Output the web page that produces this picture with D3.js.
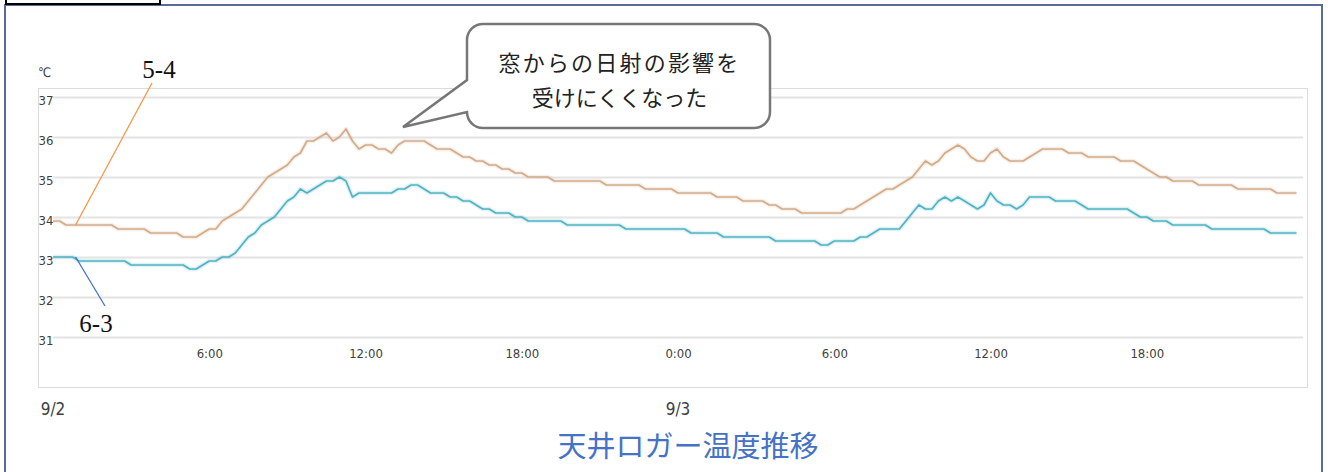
<!DOCTYPE html>
<html>
<head>
<meta charset="utf-8">
<script src="https://cdn.jsdelivr.net/npm/d3@7"></script>
<style>
  html, body { margin: 0; padding: 0; background: #fff; }
  svg { display: block; }
</style>
</head>
<body>
<svg id="chart" width="1328" height="472"></svg>
<script>
// Ceiling logger readings, one every 15 minutes from 9/2 0:00 to 9/3 23:45 (°C)
const startTime = new Date(2023, 8, 2, 0, 0);
const stepMinutes = 15;

const temp54 = [
  33.9, 33.9, 33.8, 33.8,  33.8, 33.8, 33.8, 33.8,  33.8, 33.8, 33.7, 33.7,
  33.7, 33.7, 33.7, 33.6,  33.6, 33.6, 33.6, 33.6,  33.5, 33.5, 33.5, 33.6,
  33.7, 33.7, 33.9, 34.0,  34.1, 34.2, 34.4, 34.6,  34.8, 35.0, 35.1, 35.2,
  35.3, 35.5, 35.6, 35.9,  35.9, 36.0, 36.1, 35.9,  36.0, 36.2, 35.9, 35.7,
  35.8, 35.8, 35.7, 35.7,  35.6, 35.8, 35.9, 35.9,  35.9, 35.9, 35.8, 35.7,
  35.7, 35.7, 35.6, 35.5,  35.5, 35.4, 35.4, 35.3,  35.3, 35.2, 35.2, 35.1,
  35.1, 35.0, 35.0, 35.0,  35.0, 34.9, 34.9, 34.9,  34.9, 34.9, 34.9, 34.9,
  34.9, 34.8, 34.8, 34.8,  34.8, 34.8, 34.8, 34.7,  34.7, 34.7, 34.7, 34.7,
  34.6, 34.6, 34.6, 34.6,  34.6, 34.6, 34.5, 34.5,  34.5, 34.5, 34.4, 34.4,
  34.4, 34.4, 34.3, 34.3,  34.2, 34.2, 34.2, 34.1,  34.1, 34.1, 34.1, 34.1,
  34.1, 34.1, 34.2, 34.2,  34.3, 34.4, 34.5, 34.6,  34.7, 34.7, 34.8, 34.9,
  35.0, 35.2, 35.4, 35.3,  35.4, 35.6, 35.7, 35.8,  35.7, 35.5, 35.4, 35.4,
  35.6, 35.7, 35.5, 35.4,  35.4, 35.4, 35.5, 35.6,  35.7, 35.7, 35.7, 35.7,
  35.6, 35.6, 35.6, 35.5,  35.5, 35.5, 35.5, 35.5,  35.4, 35.4, 35.4, 35.3,
  35.2, 35.1, 35.0, 35.0,  34.9, 34.9, 34.9, 34.9,  34.8, 34.8, 34.8, 34.8,
  34.8, 34.8, 34.7, 34.7,  34.7, 34.7, 34.7, 34.7,  34.6, 34.6, 34.6, 34.6
];

const temp63 = [
  33.0, 33.0, 33.0, 33.0,  32.9, 32.9, 32.9, 32.9,  32.9, 32.9, 32.9, 32.9,
  32.8, 32.8, 32.8, 32.8,  32.8, 32.8, 32.8, 32.8,  32.8, 32.7, 32.7, 32.8,
  32.9, 32.9, 33.0, 33.0,  33.1, 33.3, 33.5, 33.6,  33.8, 33.9, 34.0, 34.2,
  34.4, 34.5, 34.7, 34.6,  34.7, 34.8, 34.9, 34.9,  35.0, 34.9, 34.5, 34.6,
  34.6, 34.6, 34.6, 34.6,  34.6, 34.7, 34.7, 34.8,  34.8, 34.7, 34.6, 34.6,
  34.6, 34.5, 34.5, 34.4,  34.4, 34.3, 34.2, 34.2,  34.1, 34.1, 34.1, 34.0,
  34.0, 33.9, 33.9, 33.9,  33.9, 33.9, 33.9, 33.8,  33.8, 33.8, 33.8, 33.8,
  33.8, 33.8, 33.8, 33.8,  33.7, 33.7, 33.7, 33.7,  33.7, 33.7, 33.7, 33.7,
  33.7, 33.7, 33.6, 33.6,  33.6, 33.6, 33.6, 33.5,  33.5, 33.5, 33.5, 33.5,
  33.5, 33.5, 33.5, 33.4,  33.4, 33.4, 33.4, 33.4,  33.4, 33.4, 33.3, 33.3,
  33.4, 33.4, 33.4, 33.4,  33.5, 33.5, 33.6, 33.7,  33.7, 33.7, 33.7, 33.9,
  34.1, 34.3, 34.2, 34.2,  34.4, 34.5, 34.4, 34.5,  34.4, 34.3, 34.2, 34.3,
  34.6, 34.4, 34.3, 34.3,  34.2, 34.3, 34.5, 34.5,  34.5, 34.5, 34.4, 34.4,
  34.4, 34.4, 34.3, 34.2,  34.2, 34.2, 34.2, 34.2,  34.2, 34.2, 34.1, 34.0,
  34.0, 33.9, 33.9, 33.9,  33.8, 33.8, 33.8, 33.8,  33.8, 33.8, 33.7, 33.7,
  33.7, 33.7, 33.7, 33.7,  33.7, 33.7, 33.7, 33.6,  33.6, 33.6, 33.6, 33.6
];

const seriesNames = ["5-4", "6-3"];
const seriesColors = ["#d4ab88", "#4fb3c3"];
const leaderColors = ["#f79646", "#4472c4"];
const yTickValues = [31, 32, 33, 34, 35, 36, 37];
const dayLabels = ["9/2", "9/3"];
const unitLabel = "℃";
const chartTitle = "天井ロガー温度推移";
const calloutLines = ["窓からの日射の影響を", "受けにくくなった"];

// ---- layout ----
const svg = d3.select("#chart");
const W = 1328, H = 472;
const frame = { left: 38, top: 88, right: 1307, bottom: 387 };
const plot = { left: 53, right: 1303, top: 97, bottom: 337 };
const tickFont = "'Liberation Sans Narrow', 'DejaVu Sans Condensed', 'Arial Narrow', sans-serif";
const jpFont = "'Noto Sans CJK JP', 'Noto Sans', sans-serif";
const serifFont = "'Liberation Serif', 'DejaVu Serif', serif";

svg.append("rect").attr("width", W).attr("height", H).attr("fill", "#fff");

const endTime = d3.timeDay.offset(startTime, 2);
const x = d3.scaleTime().domain([startTime, endTime]).range([plot.left, plot.right]);
const y = d3.scaleLinear().domain([31, 37]).range([plot.bottom, plot.top]);
const timeAt = i => d3.timeMinute.offset(startTime, i * stepMinutes);

// outer slide frame and tab
svg.append("rect")
  .attr("x", 5).attr("y", 5).attr("width", 1317).attr("height", 500)
  .attr("fill", "none").attr("stroke", "#596b96").attr("stroke-width", 2);
svg.append("rect")
  .attr("x", 6).attr("y", -10).attr("width", 154).attr("height", 14)
  .attr("fill", "none").attr("stroke", "#000").attr("stroke-width", 2);

// chart frame
svg.append("rect")
  .attr("x", frame.left + 0.5).attr("y", frame.top + 0.5)
  .attr("width", frame.right - frame.left).attr("height", frame.bottom - frame.top)
  .attr("fill", "#fff").attr("stroke", "#dcdcdc").attr("stroke-width", 1);

// horizontal gridlines
const yGrid = svg.append("g")
  .attr("transform", `translate(${plot.left},0)`)
  .call(d3.axisRight(y).tickValues(yTickValues).tickSize(plot.right - plot.left).tickFormat(""));
yGrid.select(".domain").remove();
yGrid.selectAll(".tick line").attr("stroke", "#e4e4e4").attr("stroke-width", 2);

// y tick labels
svg.append("g").selectAll("text")
  .data(yTickValues)
  .join("text")
  .attr("x", frame.left + 0.5)
  .attr("y", d => y(d) + 3)
  .attr("dominant-baseline", "central")
  .attr("font-family", tickFont).attr("font-size", 13).attr("fill", "#404040")
  .text(d => d);

svg.append("text")
  .attr("x", frame.left).attr("y", 72)
  .attr("dominant-baseline", "central")
  .attr("font-family", tickFont).attr("font-size", 13).attr("fill", "#404040")
  .text(unitLabel);

// x axis: hour ticks every 6 hours
const hourTicks = x.ticks(d3.timeHour.every(6)).filter(d => d > startTime && d < endTime);
const xAxis = svg.append("g")
  .attr("transform", `translate(0,${plot.bottom + 16})`)
  .call(d3.axisBottom(x).tickValues(hourTicks).tickSize(0).tickFormat(d3.timeFormat("%-H:%M")));
xAxis.select(".domain").remove();
xAxis.selectAll("text")
  .attr("y", 0).attr("dy", 0)
  .attr("dominant-baseline", "central")
  .attr("font-family", tickFont).attr("font-size", 13).attr("fill", "#404040");

// day labels under the frame
const dayDates = dayLabels.map((_, i) => d3.timeDay.offset(startTime, i));
svg.append("g").selectAll("text")
  .data(dayLabels)
  .join("text")
  .attr("x", (d, i) => Math.max(x(dayDates[i]), frame.left + 11))
  .attr("y", 409)
  .attr("text-anchor", "middle")
  .attr("dominant-baseline", "central")
  .attr("font-family", tickFont).attr("font-size", 17).attr("fill", "#404040")
  .text(d => d);

// temperature lines
const series = [temp54, temp63];
const line = d3.line().x((d, i) => x(timeAt(i))).y(d => y(d));
const linesG = svg.append("g");
series.forEach((vals, s) => {
  linesG.append("path")
    .attr("d", line(vals))
    .attr("fill", "none").attr("stroke", seriesColors[s])
    .attr("stroke-opacity", 0.18).attr("stroke-width", 4.5)
    .attr("stroke-linejoin", "round");
  linesG.append("path")
    .attr("d", line(vals))
    .attr("fill", "none").attr("stroke", seriesColors[s])
    .attr("stroke-width", 1.7).attr("stroke-linejoin", "round");
});

// series labels with leader lines
const labelIndex = 3;
const labelPos = [
  { tx: 159, ty: 69, lx: 152, ly: 83 },
  { tx: 96, ty: 323, lx: 105, ly: 306 }
];
series.forEach((vals, s) => {
  const px = x(d3.timeMinute.offset(timeAt(labelIndex), 7));
  const py = y(vals[labelIndex]);
  svg.append("line")
    .attr("x1", labelPos[s].lx).attr("y1", labelPos[s].ly)
    .attr("x2", px).attr("y2", py)
    .attr("stroke", leaderColors[s]).attr("stroke-width", 1.3);
  svg.append("text")
    .attr("x", labelPos[s].tx).attr("y", labelPos[s].ty)
    .attr("text-anchor", "middle").attr("dominant-baseline", "central")
    .attr("font-family", serifFont).attr("font-size", 25).attr("fill", "#111")
    .text(seriesNames[s]);
});

// callout bubble
const b = { x0: 467, y0: 24, x1: 770, y1: 128, r: 16, tipX: 403, tipY: 127, tailTop: 80 };
const bubble = [
  `M${b.x0 + b.r},${b.y0}`,
  `H${b.x1 - b.r}`, `A${b.r},${b.r} 0 0 1 ${b.x1},${b.y0 + b.r}`,
  `V${b.y1 - b.r}`, `A${b.r},${b.r} 0 0 1 ${b.x1 - b.r},${b.y1}`,
  `H${b.x0 + b.r}`, `A${b.r},${b.r} 0 0 1 ${b.x0},${b.y1 - b.r}`,
  `L${b.tipX},${b.tipY}`, `L${b.x0},${b.tailTop}`,
  `V${b.y0 + b.r}`, `A${b.r},${b.r} 0 0 1 ${b.x0 + b.r},${b.y0}`, "Z"
].join(" ");
svg.append("path")
  .attr("d", bubble)
  .attr("fill", "#fff").attr("stroke", "#777").attr("stroke-width", 2.5)
  .attr("stroke-linejoin", "miter");
const lineSpacing = [2.2, 0];
svg.append("g").selectAll("text")
  .data(calloutLines)
  .join("text")
  .attr("x", (b.x0 + b.x1) / 2 + 1)
  .attr("y", (d, i) => 61 + i * 35)
  .attr("text-anchor", "middle").attr("dominant-baseline", "central")
  .attr("letter-spacing", (d, i) => lineSpacing[i])
  .attr("font-family", jpFont).attr("font-size", 22).attr("fill", "#222")
  .text(d => d);

// title
svg.append("text")
  .attr("x", 688).attr("y", 444)
  .attr("text-anchor", "middle").attr("dominant-baseline", "central")
  .attr("font-family", jpFont).attr("font-size", 29).attr("fill", "#4472c4")
  .text(chartTitle);
</script>
</body>
</html>
